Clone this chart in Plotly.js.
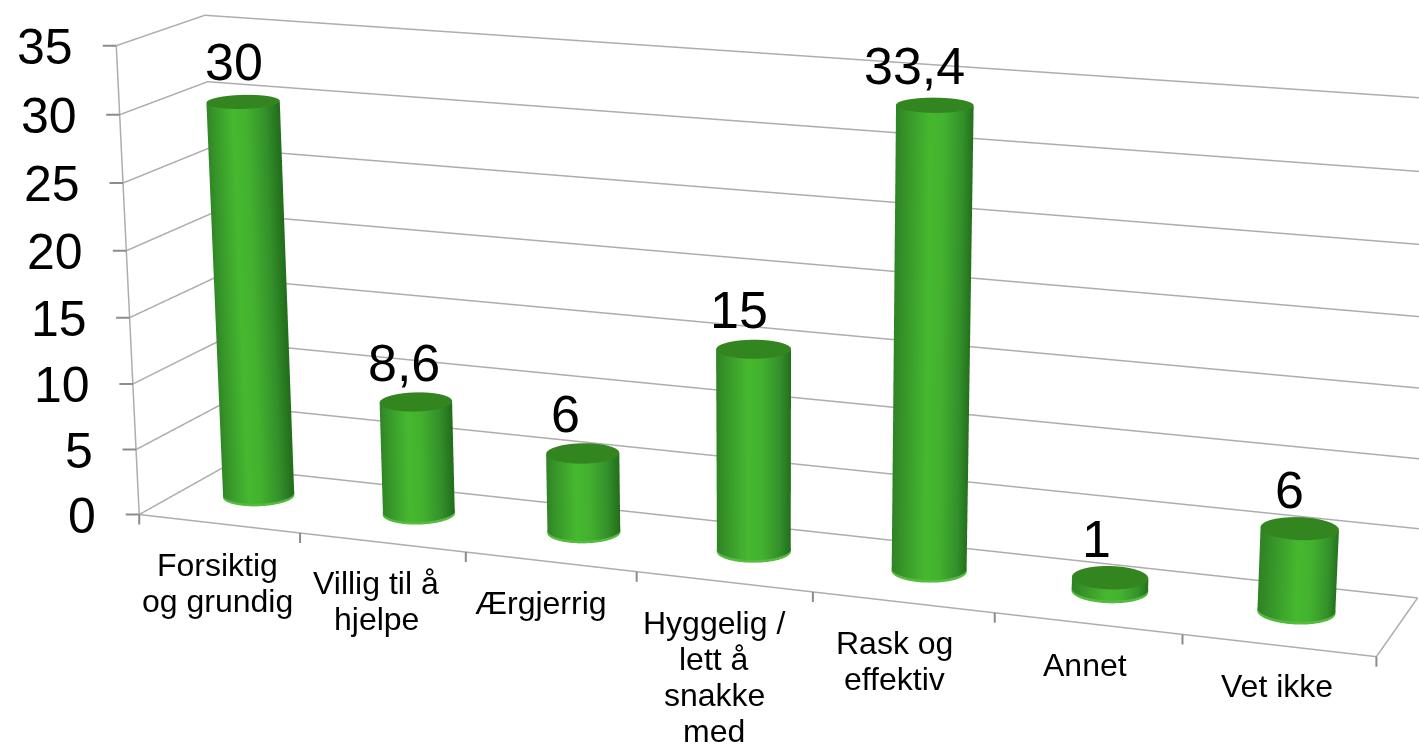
<!DOCTYPE html>
<html><head><meta charset="utf-8">
<script src="https://cdn.plot.ly/plotly-3.0.1.min.js"></script>
<style>html,body{margin:0;padding:0;background:#fff;overflow:hidden;width:1419px;height:744px}
#wrap{position:absolute;left:0;top:0;width:1419px;height:744px;overflow:hidden}
#plot{position:absolute;left:-1px;top:-1127px;width:1544px;height:3338px}</style>
</head><body><div id="wrap"><div id="plot"></div></div>
<script>
const categories = ["Forsiktig<br>og grundig","Villig til å<br>hjelpe","Ærgjerrig","Hyggelig /<br>lett å<br>snakke<br>med","Rask og<br>effektiv","Annet","Vet ikke"];
const values = [30,8.6,6,15,33.4,1,6];
const valueLabels = ["30","8,6","6","15","33,4","1","6"];
const zTicks = [0,5,10,15,20,25,30,35];
const categoryNudge = [-2,-6,-10,-10,-9,-3,-2];
const valueNudge = [-11,-15,-20,-18,-25,-18,-16];

const GREY = '#adadad';
const FONT = 'Liberation Sans';
const rx = 0.2, ry = 0.2, N = 48;
const right = [0.937,0.352];
const sideScale = [[0,'#2f8424'],[0.15,'#38982a'],[0.42,'#46b82f'],[0.6,'#43b22e'],[0.85,'#33902a'],[1,'#236f1c']];
const traces = [];
const light={ambient:1,diffuse:0,specular:0,roughness:1,fresnel:0};
const flat=(c)=>[[0,c],[1,c]];
values.forEach((v,i)=>{
  const cx=i+0.46, cy=0.55, rim=Math.min(0.2,v*0.2);
  const xs=[[],[]], ys=[[],[]], zs=[[],[]], col=[[],[]];
  const xc=[[],[]], yc=[[],[]], zc=[[],[]], colc=[[],[]];
  const xr=[[],[]], yr=[[],[]], zr=[[],[]], colr=[[],[]];
  for(let k=0;k<=N;k++){
    const a=2*Math.PI*k/N, c=Math.cos(a), s=Math.sin(a);
    const px=cx+rx*c, py=cy+ry*s;
    const t=0.5+0.5*(c*right[0]+s*right[1]);
    xs[0].push(px);xs[1].push(px);ys[0].push(py);ys[1].push(py);
    zs[0].push(0);zs[1].push(v);col[0].push(t);col[1].push(t);
    xc[0].push(cx);xc[1].push(px);yc[0].push(cy);yc[1].push(py);
    zc[0].push(v);zc[1].push(v);colc[0].push(0);colc[1].push(0);
    const qx=cx+rx*1.006*c, qy=cy+ry*1.006*s;
    xr[0].push(qx);xr[1].push(qx);yr[0].push(qy);yr[1].push(qy);
    zr[0].push(0);zr[1].push(rim);colr[0].push(0);colr[1].push(0);
  }
  traces.push({type:'surface',x:xs,y:ys,z:zs,surfacecolor:col,cmin:0,cmax:1,colorscale:sideScale,showscale:false,hoverinfo:'skip',lighting:light});
  traces.push({type:'surface',x:xc,y:yc,z:zc,surfacecolor:colc,cmin:0,cmax:1,colorscale:flat('#33851f'),showscale:false,hoverinfo:'skip',lighting:light});
  traces.push({type:'surface',x:xr,y:yr,z:zr,surfacecolor:colr,cmin:0,cmax:1,colorscale:flat('#55bc40'),showscale:false,hoverinfo:'skip',lighting:light});
});
const lineTrace=(x,y,z,w)=>({type:'scatter3d',mode:'lines',x,y,z,line:{color:GREY,width:w},hoverinfo:'skip',showlegend:false});
zTicks.forEach(t=>traces.push(lineTrace([0,0,7],[0,1,1],[t,t,t],3)));
traces.push(lineTrace([0,7,7,7],[0,0,1,1],[0,0,0,0],3));
traces.push(lineTrace([0,0],[0,0],[0,35],3));

const annotations=[];
categories.forEach((c,i)=>{
  c.split('<br>').forEach((line,k)=>{
    annotations.push({x:i+0.5,y:0,z:0,text:line,showarrow:false,xanchor:'center',yanchor:'middle',xshift:categoryNudge[i],yshift:-41-36*k,font:{family:FONT,size:32,color:'#000'}});
  });
  annotations.push({x:i+0.5,y:0.5,z:values[i],text:valueLabels[i],showarrow:false,xanchor:'center',yanchor:'bottom',xshift:valueNudge[i],yshift:11,font:{family:FONT,size:52,color:'#000'}});
});
const tick=(x,z,ax,ay)=>({x,y:0,z,text:' ',showarrow:true,arrowhead:0,arrowwidth:2,arrowcolor:'#8c8c8c',ax,ay,standoff:0,font:{size:1}});
zTicks.forEach(t=>{
  annotations.push({x:0,y:0,z:t,text:String(t),showarrow:false,xanchor:'right',yanchor:'middle',xshift:-41,yshift:-1,font:{family:FONT,size:50,color:'#000'}});
  annotations.push(tick(0,t,-15,0));
});
for(let i=0;i<=categories.length;i++) annotations.push(tick(i,0,0,12));

const hidden={showgrid:false,zeroline:false,showline:false,showticklabels:false,ticks:'',showbackground:false,showspikes:false,title:{text:''}};
const layout={
  width:1544,height:3338,margin:{l:0,r:0,t:0,b:0},paper_bgcolor:'#fff',showlegend:false,
  scene:{
    domain:{x:[0,1],y:[0,1]},bgcolor:'#fff',dragmode:false,
    aspectmode:'manual',aspectratio:{x:2.641,y:0.38,z:0.997},
    camera:{eye:{x:2.757,y:-7.34,z:1.981},center:{x:0.0715,y:-0.1133,z:-0.43},up:{x:0,y:0,z:1},projection:{type:'perspective'}},
    xaxis:Object.assign({},hidden,{range:[0,7],autorange:false}),
    yaxis:Object.assign({},hidden,{range:[0,1],autorange:false}),
    zaxis:Object.assign({},hidden,{range:[0,35],autorange:false}),
    annotations:annotations
  }
};
Plotly.newPlot('plot',traces,layout,{displayModeBar:false,responsive:false});
</script></body></html>
